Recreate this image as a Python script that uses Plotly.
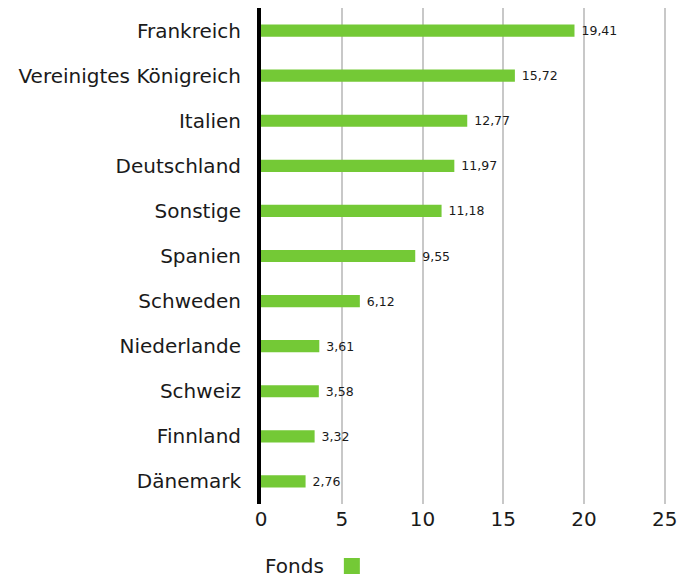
import plotly.graph_objects as go

countries = ["Frankreich", "Vereinigtes Königreich", "Italien", "Deutschland", "Sonstige",
             "Spanien", "Schweden", "Niederlande", "Schweiz", "Finnland", "Dänemark"]
values = [19.41, 15.72, 12.77, 11.97, 11.18, 9.55, 6.12, 3.61, 3.58, 3.32, 2.76]
value_labels = ["19,41", "15,72", "12,77", "11,97", "11,18", "9,55", "6,12", "3,61", "3,58", "3,32", "2,76"]
x_ticks = [0, 5, 10, 15, 20, 25]
series_name = "Fonds"

GREEN = "#74c936"
FONT = "DejaVu Sans"
TXT = "#1a1a1a"

fig = go.Figure()
fig.add_trace(go.Bar(
    y=countries, x=values, orientation="h",
    marker=dict(color=GREEN, line=dict(width=0)),
    text=[" " + t for t in value_labels], textposition="outside",
    cliponaxis=False, constraintext="none",
    textfont=dict(family=FONT, size=12.5, color=TXT),
    name=series_name, showlegend=False,
))
# legend entry (no data) so the swatch can be drawn as a larger square
fig.add_trace(go.Scatter(
    x=[None], y=[None], mode="markers",
    marker=dict(symbol="square", size=20, color=GREEN),
    name=" ", showlegend=True, hoverinfo="skip",
))

fig.update_layout(
    width=679, height=580,
    margin=dict(l=261, r=11, t=8, b=76, autoexpand=False),
    paper_bgcolor="white", plot_bgcolor="white",
    bargap=0.73,
    font=dict(family=FONT, size=20, color=TXT),
    xaxis=dict(range=[0, 25.2], tickvals=x_ticks, showgrid=True, gridcolor="#c8c8c8",
               gridwidth=2, zeroline=False, showline=False, ticks="",
               ticklabelstandoff=1, automargin=False,
               tickfont=dict(size=20, color=TXT)),
    yaxis=dict(categoryorder="array", categoryarray=countries[::-1],
               showline=True, linecolor="black", linewidth=4, ticks="",
               ticklabelstandoff=12, automargin=False,
               tickfont=dict(size=20, color=TXT), showgrid=False),
    legend=dict(orientation="h", x=0.005, xanchor="left", y=-0.125, yanchor="middle",
                title=dict(text=series_name, side="left", font=dict(size=20, color=TXT)),
                font=dict(size=20), itemsizing="trace", itemwidth=30),
    showlegend=True,
)

fig.write_html("out.html", config={"displayModeBar": False},
               post_script="document.body.style.margin='0';")
